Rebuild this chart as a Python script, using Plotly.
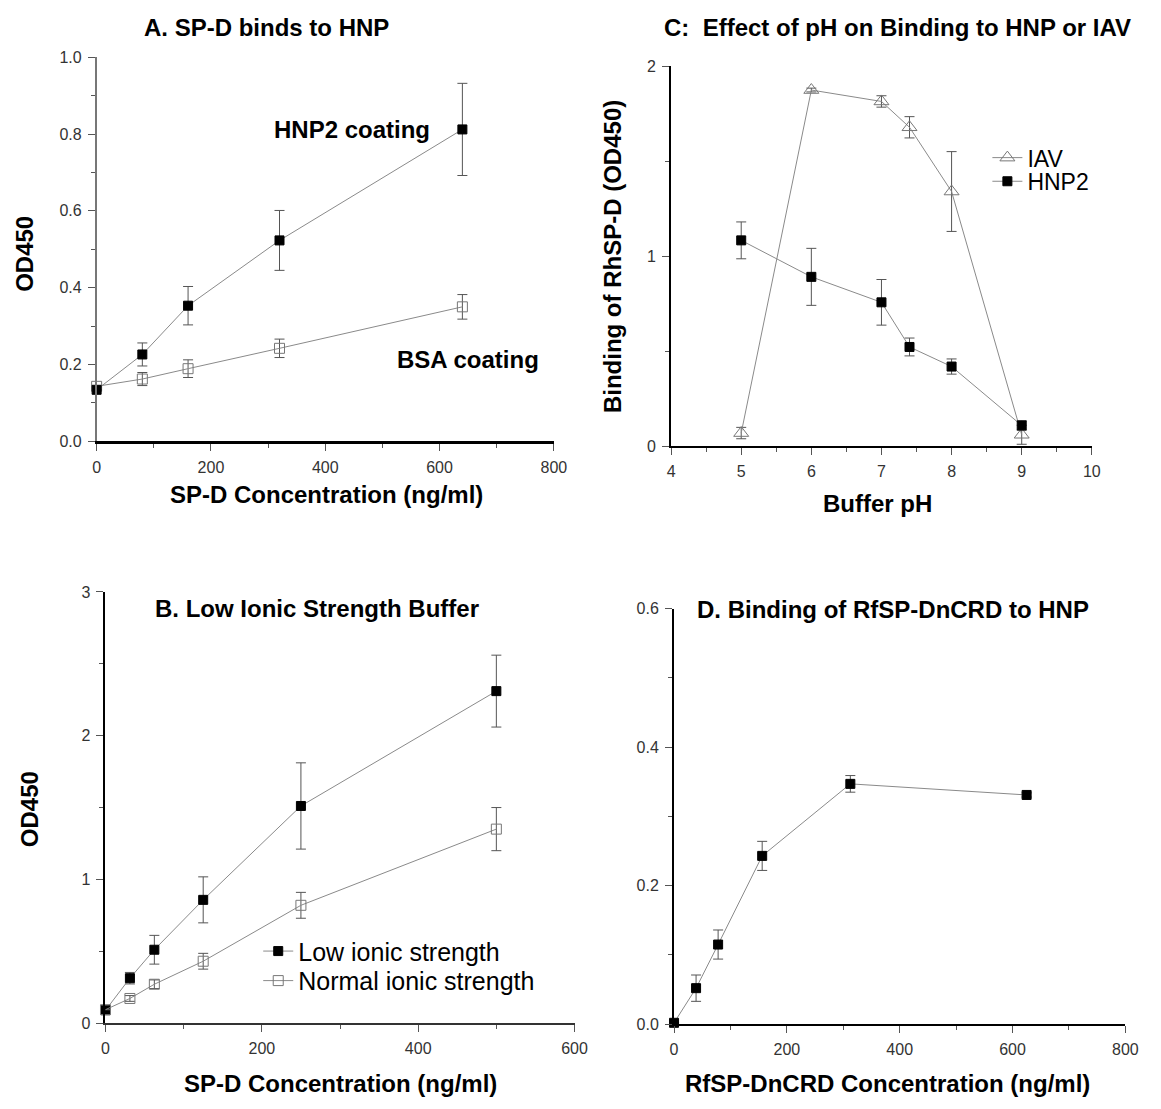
import plotly.graph_objects as go

# ---------------- data ----------------
# Panel A: SP-D binds to HNP
a_conc = [0, 80, 160, 320, 640]
a_hnp2 = [0.134, 0.226, 0.353, 0.523, 0.812]
a_hnp2_err = [0.0, 0.030, 0.050, 0.078, 0.120]
a_bsa = [0.143, 0.162, 0.189, 0.242, 0.350]
a_bsa_err = [0.0, 0.017, 0.023, 0.024, 0.032]

# Panel C: effect of pH
c_ph = [5, 6, 7, 7.4, 8, 9]
c_iav = [0.069, 1.874, 1.814, 1.678, 1.340, 0.060]
c_iav_err = [0.03, 0.01, 0.03, 0.056, 0.21, 0.05]
c_hnp2 = [1.083, 0.891, 0.757, 0.522, 0.419, 0.109]
c_hnp2_err = [0.097, 0.15, 0.12, 0.047, 0.04, 0.025]

# Panel B: low ionic strength buffer
b_conc = [0, 31.25, 62.5, 125, 250, 500]
b_low = [0.09, 0.313, 0.511, 0.858, 1.511, 2.31]
b_low_err = [0.0, 0.04, 0.10, 0.16, 0.30, 0.25]
b_norm = [0.094, 0.172, 0.271, 0.431, 0.82, 1.35]
b_norm_err = [0.0, 0.02, 0.03, 0.055, 0.09, 0.15]

# Panel D: RfSP-DnCRD binding
d_conc = [0, 39.06, 78.125, 156.25, 312.5, 625]
d_val = [0.002, 0.052, 0.115, 0.243, 0.347, 0.331]
d_err = [0.0, 0.019, 0.021, 0.021, 0.012, 0.003]

W, H = 1161, 1109
FONT = "Liberation Sans, Arial, sans-serif"
LINE = "#8a8a8a"
ERR = "#555555"


def px(x):
    return x / W


def py(y):
    return 1 - y / H


def err(vals):
    return dict(type="data", array=vals, visible=True, color=ERR, thickness=1, width=5)


fig = go.Figure()

filled = dict(symbol="square", size=9, color="black", line=dict(color="black", width=1))
opensq = dict(symbol="square-open", size=10, color="#777777", line=dict(width=1))
opentri = dict(symbol="triangle-up-open", size=13, color="#777777", line=dict(width=1))

# Panel A
fig.add_trace(go.Scatter(x=a_conc, y=a_bsa, error_y=err(a_bsa_err), mode="lines+markers",
                         line=dict(color=LINE, width=1), marker=opensq, xaxis="x", yaxis="y",
                         showlegend=False, cliponaxis=False))
fig.add_trace(go.Scatter(x=a_conc, y=a_hnp2, error_y=err(a_hnp2_err), mode="lines+markers",
                         line=dict(color=LINE, width=1), marker=filled, xaxis="x", yaxis="y",
                         showlegend=False, cliponaxis=False))

# Panel C
fig.add_trace(go.Scatter(x=c_ph, y=c_iav, error_y=err(c_iav_err), mode="lines+markers", name="IAV",
                         line=dict(color=LINE, width=1), marker=opentri, xaxis="x2", yaxis="y2",
                         legend="legend", cliponaxis=False))
fig.add_trace(go.Scatter(x=c_ph, y=c_hnp2, error_y=err(c_hnp2_err), mode="lines+markers", name="HNP2",
                         line=dict(color=LINE, width=1), marker=filled, xaxis="x2", yaxis="y2",
                         legend="legend2", cliponaxis=False))

# Panel B
fig.add_trace(go.Scatter(x=b_conc, y=b_low, error_y=err(b_low_err), mode="lines+markers",
                         name="Low ionic strength",
                         line=dict(color=LINE, width=1), marker=filled, xaxis="x3", yaxis="y3",
                         legend="legend3", cliponaxis=False))
fig.add_trace(go.Scatter(x=b_conc, y=b_norm, error_y=err(b_norm_err), mode="lines+markers",
                         name="Normal ionic strength",
                         line=dict(color=LINE, width=1), marker=opensq, xaxis="x3", yaxis="y3",
                         legend="legend4", cliponaxis=False))

# Panel D
fig.add_trace(go.Scatter(x=d_conc, y=d_val, error_y=err(d_err), mode="lines+markers",
                         line=dict(color=LINE, width=1), marker=filled, xaxis="x4", yaxis="y4",
                         showlegend=False, cliponaxis=False))


def axis(domain, rng, dtick, mdtick, fmt, anchor, lc="black", lw=2):
    return dict(domain=domain, range=rng, dtick=dtick, tick0=0, tickformat=fmt, anchor=anchor,
                showgrid=False, zeroline=False, showline=True, linecolor=lc, linewidth=lw,
                ticks="outside", ticklen=7, tickwidth=1, tickcolor="#555",
                tickfont=dict(family=FONT, size=16, color="#333"), ticklabelstandoff=3,
                minor=dict(dtick=mdtick, ticks="outside", ticklen=4, tickwidth=1, tickcolor="#555"))


def leg(x, y, size):
    return dict(x=px(x), y=py(y), xanchor="left", yanchor="middle", bgcolor="rgba(0,0,0,0)",
                font=dict(family=FONT, size=size, color="black"), itemwidth=30, tracegroupgap=0,
                borderwidth=0)


fig.update_layout(
    width=W, height=H, margin=dict(l=0, r=0, t=0, b=0),
    paper_bgcolor="white", plot_bgcolor="white",
    font=dict(family=FONT, color="black"),
    xaxis=axis([px(94), px(558)], [0, 800], 200, 100, "d", "y", lc="black", lw=3),
    yaxis=axis([py(440), py(50)], [0, 1.0], 0.2, 0.1, ".1f", "x", lc="#777", lw=1.5),
    xaxis2=axis([px(677), px(1104)], [4, 10], 1, 0.5, "d", "y2"),
    yaxis2=axis([py(445), py(59)], [0, 2], 1, 0.5, "d", "x2"),
    xaxis3=axis([px(103), px(579)], [0, 600], 200, 100, "d", "y3", lc="#333", lw=2),
    yaxis3=axis([py(1031), py(593)], [0, 3], 1, 0.5, "d", "x3"),
    xaxis4=axis([px(680), px(1138)], [0, 800], 200, 100, "d", "y4"),
    yaxis4=axis([py(1032), py(610)], [0, 0.6], 0.2, 0.1, ".1f", "x4"),
    legend=leg(998, 152, 23),
    legend2=leg(998, 176, 23),
    legend3=leg(258, 958, 25),
    legend4=leg(258, 988, 25),
)

TB = dict(family=FONT, size=24, color="black")
ann = [
    # panel titles
    dict(text="<b>A. SP-D binds to HNP</b>", x=px(266), y=py(20)),
    dict(text="<b>C:  Effect of pH on Binding to HNP or IAV</b>", x=px(907), y=py(20)),
    dict(text="<b>B. Low Ionic Strength Buffer</b>", x=px(318), y=py(610)),
    dict(text="<b>D. Binding of RfSP-DnCRD to HNP</b>", x=px(902), y=py(611)),
    # axis titles
    dict(text="<b>SP-D Concentration (ng/ml)</b>", x=px(327), y=py(494)),
    dict(text="<b>OD450</b>", x=px(20), y=py(250), textangle=-90),
    dict(text="<b>Buffer pH</b>", x=px(886), y=py(503)),
    dict(text="<b>Binding of RhSP-D (OD450)</b>", x=px(617), y=py(252), textangle=-90),
    dict(text="<b>OD450</b>", x=px(26), y=py(814), textangle=-90),
    dict(text="<b>SP-D Concentration (ng/ml)</b>", x=px(341), y=py(1092)),
    dict(text="<b>RfSP-DnCRD Concentration (ng/ml)</b>", x=px(897), y=py(1092)),
]
for a in ann:
    fig.add_annotation(xref="paper", yref="paper", showarrow=False, xanchor="center", yanchor="middle",
                       font=TB, **a)

# in-plot labels of panel A
fig.add_annotation(text="<b>HNP2 coating</b>", x=447, y=0.811, xref="x", yref="y", showarrow=False,
                   font=TB)
fig.add_annotation(text="<b>BSA coating</b>", x=650, y=0.214, xref="x", yref="y", showarrow=False,
                   font=TB)

fig.write_html("out.html", config={"displayModeBar": False},
               post_script="document.body.style.margin='0';")
